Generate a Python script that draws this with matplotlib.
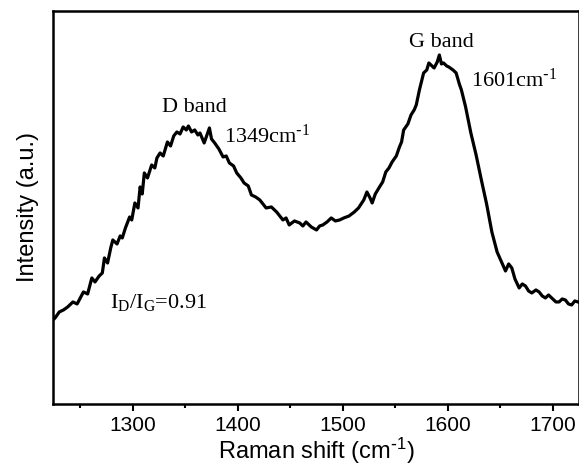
import numpy as np
import matplotlib
matplotlib.use("Agg")
import matplotlib.pyplot as plt

# raman shift (cm-1)
shift = [1224, 1226, 1230, 1234, 1238, 1243, 1247, 1250, 1253, 1257, 1261, 1264, 1268, 1271,
         1273, 1276, 1279, 1281, 1285, 1288, 1290, 1293, 1297, 1299, 1302, 1305, 1307, 1309,
         1311, 1314, 1318, 1321, 1323, 1326, 1329, 1333, 1336, 1339, 1342, 1345, 1348, 1351,
         1353, 1356, 1359, 1362, 1364, 1366, 1368, 1371, 1373, 1375, 1378, 1382, 1386, 1389,
         1392, 1396, 1399, 1403, 1406, 1410, 1413, 1417, 1421, 1424, 1427, 1432, 1437, 1440,
         1443, 1446, 1449, 1454, 1459, 1462, 1465, 1470, 1475, 1478, 1481, 1485, 1489, 1493,
         1497, 1501, 1506, 1511, 1515, 1520, 1523, 1526, 1528, 1531, 1535, 1538, 1541, 1544,
         1547, 1551, 1554, 1556, 1558, 1562, 1565, 1568, 1570, 1573, 1577, 1580, 1582, 1585,
         1587, 1590, 1592, 1594, 1596, 1599, 1601, 1605, 1608, 1611, 1613, 1617, 1622, 1627,
         1632, 1637, 1642, 1647, 1652, 1655, 1658, 1661, 1664, 1668, 1671, 1674, 1677, 1680,
         1684, 1687, 1690, 1693, 1696, 1699, 1703, 1706, 1709, 1712, 1715, 1718, 1721, 1724]
# intensity (a.u.)
intensity = [84, 86, 92, 94, 97, 102, 100, 106, 112, 110, 126, 122, 128, 131,
             146, 141, 156, 164, 160, 168, 166, 176, 187, 184, 201, 196, 217, 210,
             231, 226, 239, 236, 246, 251, 248, 262, 258, 268, 272, 270, 277, 274,
             278, 272, 274, 269, 271, 266, 261, 270, 276, 265, 261, 255, 247, 248,
             241, 238, 231, 226, 221, 218, 209, 207, 204, 200, 196, 197, 192, 188,
             184, 186, 179, 183, 181, 178, 182, 177, 174, 178, 179, 182, 186, 183,
             184, 186, 188, 192, 196, 204, 212, 206, 201, 210, 217, 222, 232, 236,
             242, 248, 257, 262, 274, 280, 289, 294, 299, 314, 331, 334, 341, 338,
             336, 342, 349, 340, 341, 338, 337, 334, 331, 320, 314, 297, 271, 249,
             224, 200, 172, 152, 140, 133, 140, 136, 125, 116, 120, 118, 113, 111,
             114, 112, 108, 106, 109, 106, 102, 102, 105, 104, 100, 99, 103, 102]

xticks = [1300, 1400, 1500, 1600, 1700]

plt.rcParams['font.family'] = 'Liberation Sans'

fig = plt.figure(figsize=(5.79, 4.67), dpi=100)
ax = fig.add_axes([0.0915, 0.135, 0.9085, 0.8415])

ax.plot(shift, intensity, color='black', lw=2.3)

ax.set_xlim(1224, 1725)
ax.set_ylim(0, 393)
ax.set_xticks(xticks)
ax.set_xticks(np.arange(1250, 1725, 100), minor=True)
ax.set_yticks([])
ax.tick_params(axis='x', which='major', direction='out', length=5, width=1.5,
               labelsize=15, pad=4)
ax.tick_params(axis='x', which='minor', direction='out', length=3, width=1.5)
for s in ax.spines.values():
    s.set_linewidth(1.8)

sup = r'$\mathregular{^{\text{-}1}}$'
ax.set_xlabel('Raman shift (cm' + sup + ')', fontsize=17, labelpad=0)
ax.set_ylabel('Intensity (a.u.)', fontsize=17, labelpad=10)

serif = dict(family='Liberation Serif', fontsize=16, color='black')
ax.text(1359, 296, 'D band', ha='center', va='center', **serif)
ax.text(1387, 268, '1349cm' + sup, ha='left', va='center', **serif)
ax.text(1594, 361, 'G band', ha='center', va='center', **serif)
ax.text(1622, 324, '1601cm' + sup, ha='left', va='center', **serif)
ax.text(1278, 101, r'$\mathregular{I_D/I_G}$=0.91', ha='left', va='center', **serif)

fig.savefig('out.png', dpi=100)
